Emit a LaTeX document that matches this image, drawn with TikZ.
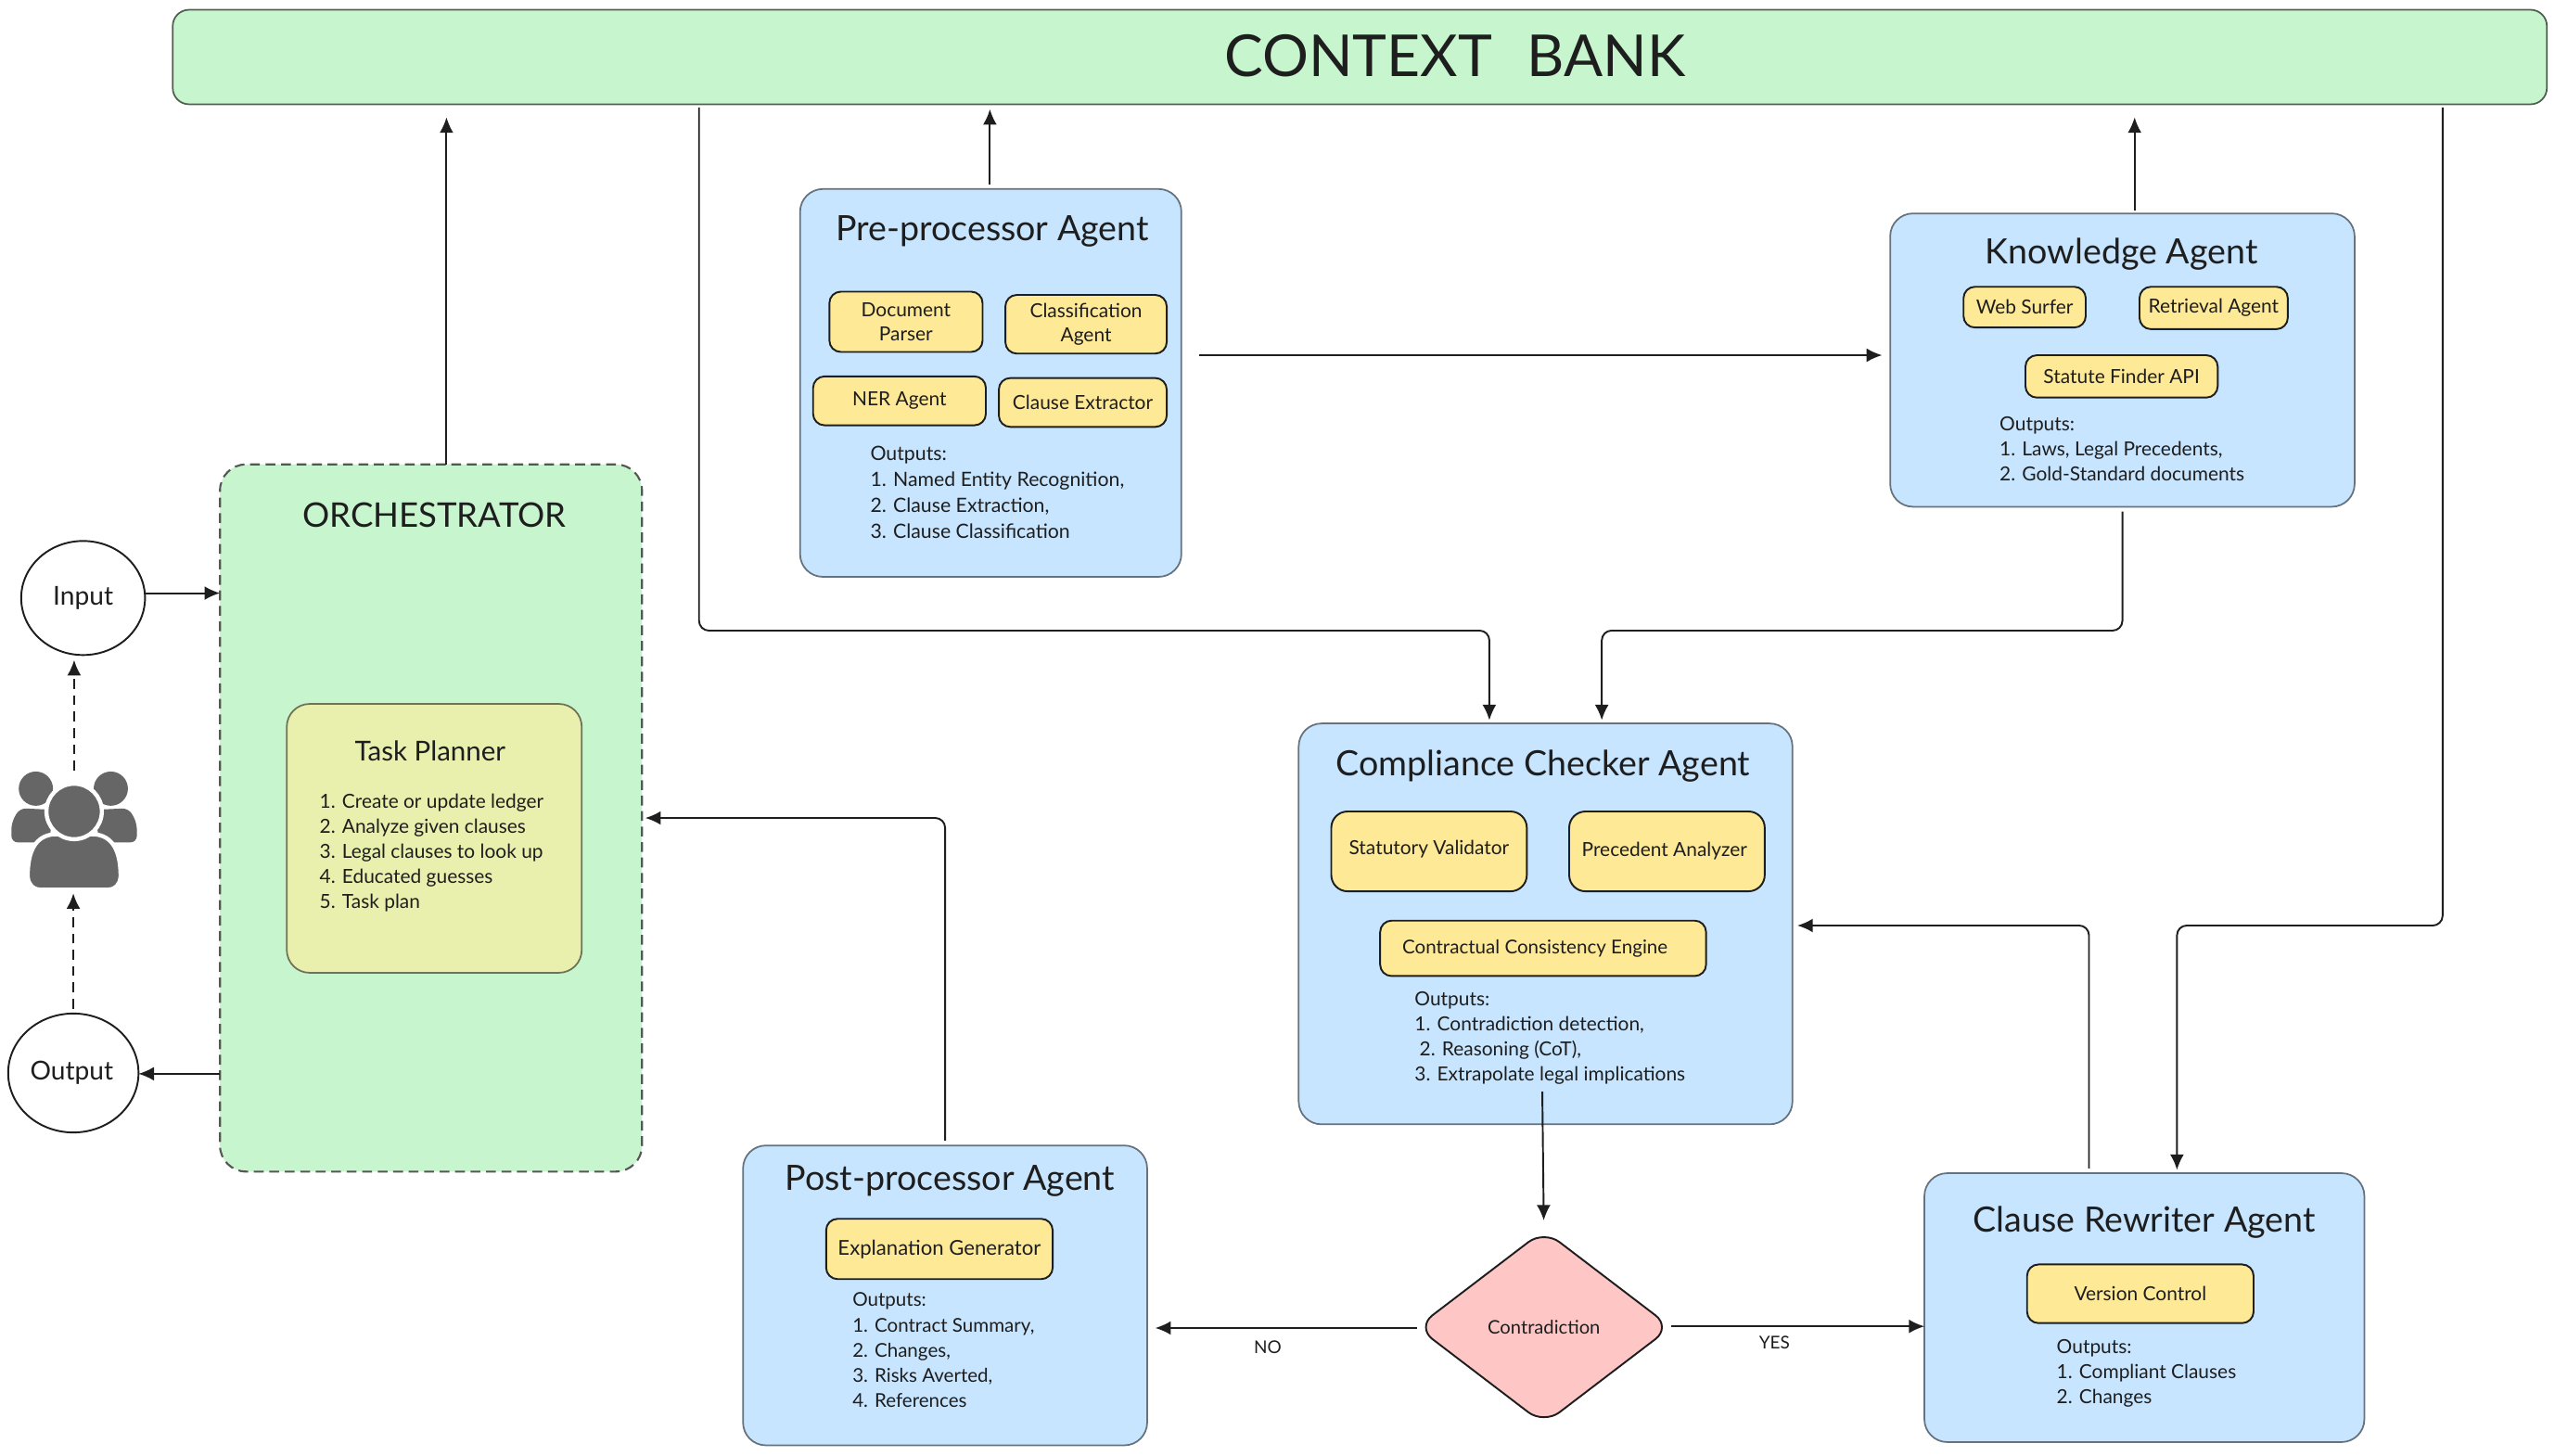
\documentclass[tikz,border=0pt]{standalone}
\usepackage{fontspec}
\setmainfont{Lato}
\usetikzlibrary{positioning}
\usetikzlibrary{calc}
\usetikzlibrary{arrows.meta}
\usetikzlibrary{shapes.geometric}
\definecolor{ink}{HTML}{1E1E1E}
\definecolor{Mint}{HTML}{C7F5CE}
\definecolor{Sky}{HTML}{C7E5FF}
\definecolor{Butter}{HTML}{FEE996}
\definecolor{Olive}{HTML}{E9EFAC}
\definecolor{Blush}{HTML}{FFC6C6}
\definecolor{Slate}{HTML}{66727D}
\definecolor{Iconic}{HTML}{666666}
\tikzset{
  agent/.style={draw=Slate, fill=Sky, line width=1pt, rounded corners=14pt, outer sep=0pt},
  tool/.style={draw=ink, fill=Butter, line width=1.1pt, rounded corners=7pt, align=center, text=ink, outer sep=0pt, inner sep=0pt, font=\fontsize{11.9}{15}\selectfont},
  title/.style={text=ink, inner sep=0pt, font=\fontsize{21.4}{25}\selectfont},
  outtext/.style={text=ink, inner sep=0pt, anchor=west, align=left, font=\fontsize{11.9}{15.4}\selectfont},
  ring/.style={draw=ink, fill=white, shape=ellipse, line width=1.1pt, outer sep=0pt, inner sep=0pt, text=ink, font=\fontsize{16}{18}\selectfont},
  flow/.style={->, draw=ink, line width=1.1pt, rounded corners=6pt},
  small/.style={text=ink, inner sep=0pt, font=\fontsize{10.8}{12}\selectfont}
}
\begin{document}
\begin{tikzpicture}[x=1pt, y=-1pt, >={Latex[length=9.5pt,width=8.5pt]}]
  \useasboundingbox (0,0) rectangle (1568,893);

  \node[draw=ink!70!Mint, fill=Mint, line width=1pt, rounded corners=10pt, minimum width=1457pt, minimum height=58pt, outer sep=0pt] (bank) at (834.5,35) {};
  \node[text=ink, inner sep=0pt, font=\fontsize{35.5}{40}\selectfont] (banktext) at (893,34) {CONTEXT\hspace{.35em} BANK};

  % orchestrator column
  \node[draw=ink!75, fill=Mint, line width=1.2pt, dash pattern=on 6pt off 3.5pt, rounded corners=16pt, minimum width=259pt, minimum height=434pt, outer sep=0pt] (orch) at (264.5,502) {};
  \node[title, font=\fontsize{20.8}{25}\selectfont] (orchtitle) at (266.5,316) {ORCHESTRATOR};
  \node[draw=ink!60!Olive, fill=Olive, line width=1pt, rounded corners=14pt, minimum width=181pt, minimum height=165pt, outer sep=0pt] (plan) at (266.5,514.5) {};
  \node[text=ink, inner sep=0pt, font=\fontsize{16.8}{18}\selectfont] (plantitle) at (264,461) {Task Planner};
  \node[outtext] (plantext) at (196,523.5) {1. Create or update ledger\\2. Analyze given clauses\\3. Legal clauses to look up\\4. Educated guesses\\5. Task plan};

  \node[ring, minimum width=76pt, minimum height=70pt] (inp) at (51,367) {\raisebox{2pt}{Input}};
  \node[ring, minimum width=80pt, minimum height=73pt] (outp) at (45,658.5) {\raisebox{2pt}{Output}\kern2pt};

  % people icon
  \node[minimum width=77pt, minimum height=72pt, inner sep=0pt] (people) at (45.5,509) {};
  \fill[Iconic] (22,484) circle (10.5pt);
  \fill[Iconic] (68,484) circle (10.5pt);
  \fill[Iconic, rounded corners=4pt] (7,517) -- (7,505) -- (12,496) -- (33,497) -- (30,517) -- cycle;
  \fill[Iconic, rounded corners=4pt] (84,517) -- (84,505) -- (79,496) -- (58,497) -- (61,517) -- cycle;
  \filldraw[fill=Iconic, draw=white, line width=2.5pt] (17,538) .. controls (17,522) and (22,513) .. (33,512) -- (58,512) .. controls (69,513) and (74,522) .. (74,538) .. controls (74,542) and (71,546) .. (66,546) -- (25,546) .. controls (20,546) and (17,542) .. (17,538) -- cycle;
  \filldraw[fill=Iconic, draw=white, line width=2.5pt] (45.5,498) circle (17pt);

  % pre-processor
  \node[agent, minimum width=234pt, minimum height=238pt] (pre) at (608,235) {};
  \node[title] (pretitle) at (609,142) {Pre-processor Agent};
  \node[tool, minimum width=94pt, minimum height=37pt] (parser) at (556,197.5) {Document\\Parser};
  \node[tool, minimum width=99pt, minimum height=36pt] (classif) at (666.5,199) {Classification\\Agent};
  \node[tool, minimum width=106pt, minimum height=30pt] (ner) at (552,246) {NER Agent};
  \node[tool, minimum width=103pt, minimum height=30pt] (extract) at (664.5,247) {Clause Extractor};
  \node[outtext, font=\fontsize{12.1}{16}\selectfont] (preout) at (534,302) {Outputs:\\1. Named Entity Recognition,\\2. Clause Extraction,\\3. Clause Classification};

  % knowledge
  \node[agent, minimum width=285pt, minimum height=180pt] (know) at (1302.5,221) {};
  \node[title] (knowtitle) at (1302,156) {Knowledge Agent};
  \node[tool, minimum width=75pt, minimum height=25pt] (surfer) at (1242.5,188.5) {Web Surfer};
  \node[tool, minimum width=91pt, minimum height=26pt] (retrieve) at (1358.5,189) {Retrieval Agent};
  \node[tool, minimum width=118pt, minimum height=26pt] (statute) at (1302,231) {Statute Finder API};
  \node[outtext] (knowout) at (1227,275.5) {Outputs:\\1. Laws, Legal Precedents,\\2. Gold-Standard documents};

  % compliance
  \node[agent, minimum width=303pt, minimum height=246pt] (comp) at (948.5,567) {};
  \node[title] (comptitle) at (947,470) {Compliance Checker Agent};
  \node[tool, minimum width=120pt, minimum height=49pt, rounded corners=10pt] (validator) at (877,522.5) {\raisebox{5pt}{Statutory Validator}};
  \node[tool, minimum width=120pt, minimum height=49pt, rounded corners=10pt] (analyzer) at (1023,522.5) {Precedent Analyzer\kern3pt};
  \node[tool, minimum width=200pt, minimum height=34pt, font=\fontsize{11.7}{15}\selectfont] (engine) at (947,582) {Contractual Consistency Engine\kern10pt};
  \node[outtext] (compout) at (868,637) {Outputs:\\1. Contradiction detection,\\\hspace*{3pt}2. Reasoning (CoT),\\3. Extrapolate legal implications};

  % post-processor
  \node[agent, minimum width=248pt, minimum height=184pt] (post) at (580,795) {};
  \node[title] (posttitle) at (583,725) {Post-processor Agent};
  \node[tool, minimum width=139pt, minimum height=37pt, font=\fontsize{12.6}{15}\selectfont] (explain) at (576.5,766.5) {Explanation Generator};
  \node[outtext, font=\fontsize{11.7}{15.4}\selectfont] (postout) at (523,828.5) {Outputs:\\1. Contract Summary,\\2. Changes,\\3. Risks Averted,\\4. References};

  % rewriter
  \node[agent, minimum width=270pt, minimum height=165pt] (rewrite) at (1316,802.5) {};
  \node[title] (rewritetitle) at (1316,750) {Clause Rewriter Agent};
  \node[tool, minimum width=139pt, minimum height=36pt] (version) at (1313.5,794) {Version Control};
  \node[outtext] (rewriteout) at (1262,843) {Outputs:\\1. Compliant Clauses\\2. Changes};

  \node[draw=ink, fill=Blush, shape=diamond, aspect=1.31, line width=1.1pt, rounded corners=12pt, minimum width=156pt, minimum height=119pt, inner sep=0pt, outer sep=0pt, text=ink, font=\fontsize{11.5}{13}\selectfont] (contra) at (947.5,814.5) {Contradiction};

  \coordinate (lanea) at (429,387);
  \coordinate (laneb) at (914,387);
  \coordinate (lanec) at (983,387);
  \coordinate (laned) at (1499,568);
  \coordinate (lanee) at (1336,568);
  \coordinate (lanef) at (1282,568);
  \coordinate (laneg) at (580,502);
  \coordinate (compout-foot) at (946.5,670);

  \draw[flow, shorten >=8pt] (orch.north -| 274,0) -- (bank.south -| 274,0);
  \draw[flow, shorten <=3pt, shorten >=3pt] (pre.north -| 607.5,0) -- (bank.south -| 607.5,0);
  \draw[flow, shorten <=2pt, shorten >=8pt] (know.north -| 1310,0) -- (bank.south -| 1310,0);
  \draw[flow, shorten <=11pt, shorten >=5pt] (pre.east |- 0,218) -- (know.west |- 0,218);
  \draw[flow, shorten <=2pt, shorten >=2pt] (bank.south -| lanea) -- (lanea) -- (laneb) -- (comp.north -| laneb);
  \draw[flow, shorten <=3pt, shorten >=2pt] (know.south) |- (lanec) -- (comp.north -| lanec);
  \draw[flow, shorten <=2pt, shorten >=2pt] (bank.south -| laned) -- (laned) -- (lanee) -- (rewrite.north -| lanee);
  \draw[flow, shorten <=3pt, shorten >=3pt] (rewrite.north -| lanef) -- (lanef) -- (comp.east |- lanef);
  \draw[flow, shorten >=9pt] (compout-foot) -- (contra.north |- 0,758);
  \draw[flow, shorten >=5pt] (contra.west |- 0,815) -- (post.east |- 0,815);
  \draw[flow] (contra.east |- 0,814) -- (rewrite.west |- 0,814);
  \draw[flow, shorten <=3pt, shorten >=2pt] (post.north) -- (laneg) -- (orch.east |- laneg);
  \draw[flow] (orch.west |- 0,659) -- (outp.east |- 0,659);
  \draw[flow] (inp.east |- 0,364) -- (orch.west |- 0,364);
  \draw[flow, line width=1.3pt, dash pattern=on 6pt off 4pt, shorten <=3pt, shorten >=3pt] (outp.north) -- (people.south -| outp.north);
  \draw[flow, line width=1.3pt, dash pattern=on 6pt off 4pt, shorten <=0pt, shorten >=3pt] (people.north) -- (inp.south -| people.north);

  \node[small] (nolabel) at (778,827) {NO};
  \node[small] (yeslabel) at (1089,824) {YES};
\end{tikzpicture}
\end{document}
